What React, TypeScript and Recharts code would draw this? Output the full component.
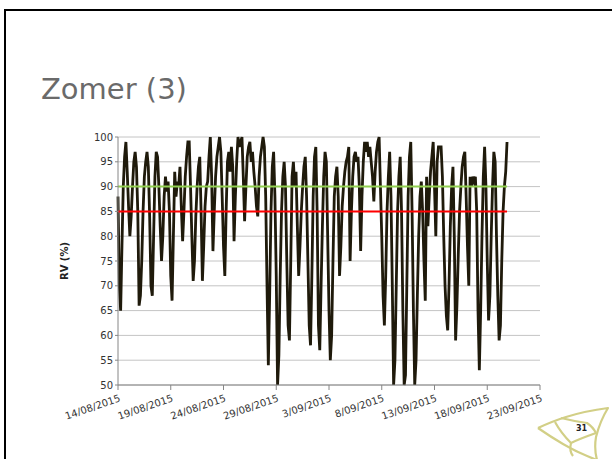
import { LineChart, Line, XAxis, YAxis, CartesianGrid } from 'recharts'

// RV (%), 3-hourly readings (00,03,06,09,12,15,18,21h) starting 14/08/2015
const rvWeek1 = [
  88, 70, 65, 78, 90, 96, 99, 93, // 14/08
  86, 80, 84, 90, 95, 97, 94, 85, // 15/08
  66, 68, 75, 85, 92, 95, 97, 94, // 16/08
  84, 70, 68, 80, 92, 97, 96, 90, // 17/08
  82, 75, 80, 88, 92, 89, 91, 85, // 18/08
  72, 67, 80, 93, 88, 91, 90, 94, // 19/08
  86, 79, 85, 92, 96, 99, 99, 90, // 20/08
]
const rvWeek2 = [
  80, 71, 75, 84, 90, 94, 96, 85, // 21/08
  71, 78, 86, 90, 91, 96, 100, 92, // 22/08
  77, 85, 92, 96, 98, 100, 97, 88, // 23/08
  78, 72, 85, 95, 97, 93, 98, 94, // 24/08
  79, 88, 95, 100, 98, 99, 100, 92, // 25/08
  83, 90, 96, 98, 99, 95, 97, 93, // 26/08
  90, 86, 84, 92, 96, 98, 100, 98, // 27/08
]
const rvWeek3 = [
  88, 70, 54, 68, 85, 94, 97, 88, // 28/08
  72, 50, 56, 72, 85, 92, 95, 90, // 29/08
  75, 62, 59, 75, 92, 95, 90, 93, // 30/08
  82, 72, 78, 85, 90, 94, 96, 88, // 31/08
  75, 62, 58, 72, 88, 96, 98, 85, // 1/09
  62, 57, 70, 82, 92, 97, 95, 80, // 2/09
  65, 55, 60, 75, 88, 92, 94, 88, // 3/09
]
const rvWeek4 = [
  72, 78, 86, 90, 93, 95, 96, 98, // 4/09
  75, 85, 92, 96, 97, 95, 96, 90, // 5/09
  77, 88, 95, 99, 97, 99, 96, 98, // 6/09
  95, 92, 87, 93, 97, 99, 100, 90, // 7/09
  80, 68, 62, 72, 85, 92, 97, 88, // 8/09
  70, 50, 55, 70, 85, 92, 96, 85, // 9/09
  65, 50, 52, 70, 88, 96, 99, 85, // 10/09
]
const rvWeek5 = [
  65, 50, 55, 68, 80, 88, 91, 85, // 11/09
  75, 67, 92, 82, 88, 93, 96, 99, // 12/09
  90, 80, 95, 98, 98, 98, 92, 80, // 13/09
  70, 64, 61, 70, 82, 90, 94, 80, // 14/09
  59, 66, 76, 85, 90, 94, 96, 97, // 15/09
  88, 78, 70, 92, 90, 92, 91, 92, // 16/09
  85, 65, 53, 65, 80, 92, 98, 90, // 17/09
  75, 63, 68, 80, 90, 97, 95, 80, // 18/09
  68, 59, 62, 75, 85, 90, 93, 99, // 19/09
]

const rvValues = [...rvWeek1, ...rvWeek2, ...rvWeek3, ...rvWeek4, ...rvWeek5]
const readingsPerDay = 8

const limitLow = 85
const limitHigh = 90

// days after 14/08/2015
const tickDays = [0, 5, 10, 15, 20, 25, 30, 35, 40]
const tickLabels = [
  '14/08/2015',
  '19/08/2015',
  '24/08/2015',
  '29/08/2015',
  '3/09/2015',
  '8/09/2015',
  '13/09/2015',
  '18/09/2015',
  '23/09/2015',
]
const yTicks = [50, 55, 60, 65, 70, 75, 80, 85, 90, 95, 100]

const data = rvValues.map((rv, i) => ({
  t: i / readingsPerDay,
  rv,
  low: limitLow,
  high: limitHigh,
}))

const FONT = '"DejaVu Sans", Verdana, sans-serif'

const DateTick = (props: any) => {
  const { x, y, payload } = props
  const idx = tickDays.indexOf(payload.value)
  const ax = x + 3
  const ay = y + 9
  return (
    <text
      x={ax}
      y={ay}
      transform={`rotate(-19 ${ax} ${ay})`}
      textAnchor="end"
      fontSize={10}
      fontFamily={FONT}
      fill="#333"
    >
      {tickLabels[idx]}
    </text>
  )
}

function Logo() {
  return (
    <svg
      width={80}
      height={56}
      style={{ position: 'absolute', left: 534, top: 404 }}
    >
      <g fill="none" stroke="#d2cf86" strokeWidth={2.2} strokeLinejoin="round">
        <path d="M4 24 Q19 17 32 13 Q51 7 74 4 Q66 17 62 33 Q60 45 63 56" />
        <path d="M4 24 Q17 33 29 40 Q44 49 63 56" />
        <path d="M21 18 Q27 29 37 39 Q45 35 62 29" />
        <path d="M27 14 Q39 17 53 19 Q59 23 62 29" />
        <path d="M37 39 Q35 47 39 52" />
      </g>
      <text
        x={42}
        y={27}
        fontSize={8}
        fontWeight="bold"
        fontFamily={FONT}
        fill="#222"
      >
        31
      </text>
    </svg>
  )
}

export default function App() {
  return (
    <div
      style={{
        position: 'absolute',
        left: 0,
        top: 0,
        width: 612,
        height: 459,
        overflow: 'hidden',
        background: '#fff',
      }}
    >
      <div
        style={{
          position: 'absolute',
          left: 4,
          top: 9,
          width: 620,
          height: 460,
          borderLeft: '2px solid #000',
          borderTop: '2px solid #000',
        }}
      />
      <div
        style={{
          position: 'absolute',
          left: 41,
          top: 71,
          fontFamily: FONT,
          fontSize: 29,
          color: '#6a6a6a',
          lineHeight: '36px',
        }}
      >
        Zomer (3)
      </div>

      <div style={{ position: 'absolute', left: 0, top: 0 }}>
        <LineChart
          width={612}
          height={459}
          data={data}
          margin={{ top: 137, right: 72, bottom: 34, left: 0 }}
        >
          <CartesianGrid
            horizontal
            vertical={false}
            stroke="#c4c4c4"
            strokeWidth={1}
          />
          <XAxis
            dataKey="t"
            type="number"
            domain={[0, 40]}
            ticks={tickDays}
            interval={0}
            height={40}
            axisLine={{ stroke: '#868686' }}
            tickLine={{ stroke: '#868686' }}
            tickSize={5}
            tick={<DateTick />}
          />
          <YAxis
            domain={[50, 100]}
            ticks={yTicks}
            interval={0}
            width={118}
            axisLine={{ stroke: '#868686' }}
            tickLine={{ stroke: '#868686' }}
            tickSize={3}
            tick={{ fontSize: 10, fontFamily: FONT, fill: '#333' }}
            label={{
              value: 'RV (%)',
              angle: -90,
              position: 'insideLeft',
              offset: 64,
              style: {
                fontSize: 10,
                fontWeight: 'bold',
                fontFamily: FONT,
                fill: '#222',
                textAnchor: 'middle',
              },
            }}
          />
          <Line
            dataKey="rv"
            type="linear"
            stroke="#1f1a0b"
            strokeWidth={2.8}
            dot={false}
            isAnimationActive={false}
          />
          <Line
            dataKey="high"
            type="linear"
            stroke="#92d050"
            strokeWidth={2}
            dot={false}
            isAnimationActive={false}
          />
          <Line
            dataKey="low"
            type="linear"
            stroke="#ff0000"
            strokeWidth={2}
            dot={false}
            isAnimationActive={false}
          />
        </LineChart>
      </div>

      <Logo />
    </div>
  )
}
